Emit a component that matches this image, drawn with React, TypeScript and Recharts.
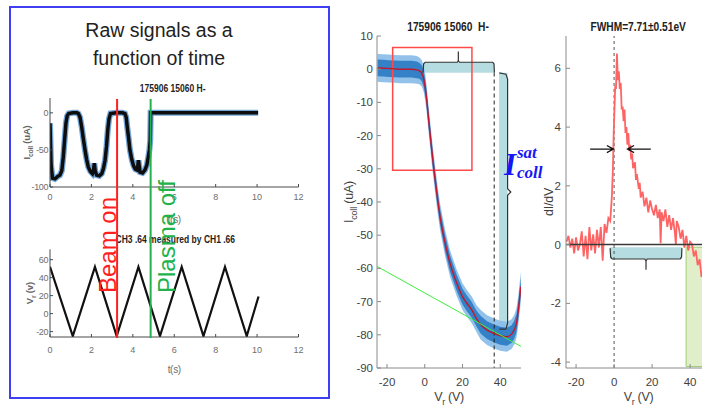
import {
  Area,
  ComposedChart,
  Line,
  ReferenceArea,
  ReferenceLine,
  XAxis,
  YAxis,
} from "recharts";

// left panel: raw collector current vs time
const rawTime = [
  0, 0.05, 0.12, 0.24, 0.36, 0.48, 0.57, 0.64, 0.71, 0.77, 0.83, 0.9, 1.1, 1.3, 1.37,
  1.45, 1.53, 1.61, 1.69, 1.77, 1.85, 1.95, 2.05, 2.1, 2.14, 2.18, 2.25, 2.38, 2.5,
  2.58, 2.66, 2.73, 2.79, 2.85, 2.92, 3.2, 3.5, 3.62, 3.68, 3.73, 3.8, 3.86, 3.95,
  4.03, 4.12, 4.2, 4.24, 4.27, 4.31, 4.35, 4.47, 4.59, 4.68, 4.75, 4.8, 4.84, 4.86,
  6, 8, 10.05,
];
const rawCurrent = [
  -14, -70, -88, -89, -86, -84, -78, -60, -35, -14, -4, -1, 0, 0, -1,
  -6, -19, -35, -50, -63, -73, -79, -82, -78, -68, -78, -84, -85, -82,
  -75, -64, -45, -23, -8, -1, 0, 0, -1, -6, -19, -35, -50, -63,
  -71, -76, -77, -72, -64, -72, -80, -81, -77, -70, -59, -50, -37, 0,
  0, 0, 0,
];
// ramp voltage CH3 measured by CH1
const rampTime = [0, 1.1, 2.17, 3.22, 4.27, 5.31, 6.36, 7.41, 8.45, 9.5, 10.07];
const rampVolt = [52, -25, 52, -25, 52, -25, 52, -25, 52, -25, 19];
const eventTime = [3.24, 4.86];
const eventText = ["Beam on", "Plasma off"];
const timeTicks = [0, 2, 4, 6, 8, 10, 12];

// middle: I-V sweep
const sweepV = [
  -25, -22, -19, -16, -13, -10, -7, -4.2, -2.8, -1.6, -0.6, 0.2, 1, 1.9, 2.8, 3.7, 4.9,
  6.4, 8.1, 10.8, 13.4, 17, 20, 22.3, 24.9, 27.5, 29.7, 33, 36.8, 40, 43.5, 46, 47.4,
  48.6, 49.6, 50.9,
];
const sweepI = [
  0.4, 0.3, 0.2, 0.1, 0, 0, 0, -0.2, -0.5, -1.2, -2.8, -5.3, -9, -14.3, -19.3, -24.3,
  -30.4, -37.4, -44.4, -52.4, -58.5, -64.5, -68.5, -70.5, -72.5, -75.2, -77, -78.6,
  -79.6, -80.3, -80.6, -79.8, -78.5, -76.5, -72.5, -65.5,
];
const sweepNoise = [
  4.2, 4.2, 4.2, 4.2, 4.2, 4.2, 4.2, 4.2, 4, 4, 4, 4, 4, 4, 4, 4, 4,
  4, 4, 4, 4, 4, 4, 4, 4, 4, 4.5, 4.5, 4.5, 4.5, 4.5, 4.5, 4.5, 4.5, 4.5, 4.5,
];
const baselineV = [-25.3, 51];
const baselineI = [-59.4, -83.5];
const braceTopV = [-0.9, -0.6, 0.2, 17.2, 17.8, 17.8, 17.8, 18.4, 36.0, 36.7, 36.9];
const braceTopI = [-1.0, 1.6, 2.1, 2.1, 2.6, 5.3, 2.6, 2.1, 2.1, 1.6, -1.0];
const braceSideV = [39.5, 43.0, 43.9, 43.9, 45.6, 43.9, 43.9, 43.0, 39.5];
const braceSideI = [-1.1, -1.5, -3.0, -36.0, -37.0, -38.0, -76.5, -78.3, -78.3];
const vTicks = [-20, 0, 20, 40];
const iTicks = [-90, -80, -70, -60, -50, -40, -30, -20, -10, 0, 10];

// right: dI/dV
const derivV = [
  -25, -24, -23, -22, -21, -20, -19, -18, -17, -16, -15, -14, -13, -12, -11, -10, -9, -8,
  -7, -6, -5, -4, -3, -2, -1.2, -0.6, -0.2, 0.2, 0.6, 1, 1.5, 2, 2.5, 3, 3.5, 4, 4.5, 5,
  5.5, 6, 6.5, 7, 7.5, 8, 8.5, 9, 9.5, 10, 11, 11.5, 12, 13, 13.5, 14, 15, 16, 17, 18,
  19, 20, 21, 22, 23, 24, 24.5, 25, 26, 27, 28, 29, 30, 31, 32, 32.5, 33, 34, 35, 36,
  37, 38, 39, 40, 41, 42, 43, 44, 45, 46, 47,
];
const derivD = [
  0.1, 0.3, -0.1, 0.2, -0.3, 0.25, -0.2, 0, 0.45, -0.4, 0.3, -0.5, 0.6, -0.2, 0.35, -0.3,
  0.5, -0.1, 0.6, -0.55, 0.7, 0.4, 0.9, 0.8, 1.6, 2.6, 3.8, 4.6, 5.4, 5.3, 6.5, 5.6, 5.9,
  5.3, 5.5, 4.6, 4.7, 4.2, 4.6, 3.8, 4.0, 3.4, 3.8, 3.2, 3.4, 2.9, 3.1, 2.6, 2.8, 2.2,
  2.4, 1.9, 2.1, 1.6, 1.8, 1.3, 1.6, 1.1, 1.5, 1.2, 1.0, 1.35, 0.9, 1.2, 0.05, 1.1, 0.8,
  1.2, 0.6, 1.0, 0.5, 0.9, 0.4, 0.0, 0.8, 0.6, 0.2, 0.5, -0.1, 0.3, -0.2, 0.1, 0.02,
  -0.4, -0.2, -0.7, -0.5, -1.1, -0.8,
];
const arrowLeftV = [-12.6, -0.3, -3.8, -0.3, -3.8];
const arrowLeftD = [3.25, 3.25, 3.37, 3.25, 3.13];
const arrowRightV = [19.3, 7.0, 10.5, 7.0, 10.5];
const arrowRightD = [3.25, 3.25, 3.37, 3.25, 3.13];
const braceLowV = [-2.1, -1.8, -1.0, 16.2, 16.8, 16.8, 16.8, 17.4, 34.8, 35.5, 35.7];
const braceLowD = [-0.12, -0.42, -0.49, -0.49, -0.56, -0.86, -0.56, -0.49, -0.49, -0.42, -0.12];
const dTicks = [-4, -2, 0, 2, 4, 6];

const pts = (xs: number[], ys: number[]) => xs.map((x, k) => ({ x, y: ys[k] }));

const RED = "#ff1f1f";
const GREEN = "#22b24c";
const CYAN = "#b5dde1";
const AX_L = "#4a4a4a";
const TXT_L = "#6e6e6e";
const AX = "#8a8a8a";
const TXT = "#3f3f3f";
const noTick = () => "";

function rotLabel(text: string, sub: string, rest: string, dx: number, size: number, color: string, weight = "normal") {
  return (props: any) => {
    const vb = props.viewBox;
    const cx = vb.x + dx;
    const cy = vb.y + vb.height / 2;
    return (
      <text x={cx} y={cy} transform={`rotate(-90 ${cx} ${cy})`} textAnchor="middle" fontSize={size} fill={color} fontWeight={weight} letterSpacing={-0.2}>
        {text}
        {sub ? <tspan fontSize={size * 0.72} dy={size * 0.3}>{sub}</tspan> : null}
        <tspan dy={sub ? -size * 0.3 : 0}>{rest}</tspan>
      </text>
    );
  };
}

function xLabel(text: string, sub: string, rest: string, dy: number, size: number, color: string) {
  return (props: any) => {
    const vb = props.viewBox;
    const cx = vb.x + vb.width / 2;
    const y = vb.y + dy;
    return (
      <text x={cx} y={y} textAnchor="middle" fontSize={size} fill={color} letterSpacing={-0.3}>
        {text}
        {sub ? <tspan fontSize={size * 0.72} dy={size * 0.3}>{sub}</tspan> : null}
        <tspan dy={sub ? -size * 0.3 : 0}>{rest}</tspan>
      </text>
    );
  };
}

function RawCurrentPlot() {
  const data = pts(rawTime, rawCurrent);
  return (
    <ComposedChart width={310} height={149} margin={{ top: 18, right: 11.5, bottom: 0, left: 0 }}>
      <XAxis dataKey="x" type="number" domain={[0, 12]} ticks={timeTicks} interval={0} allowDataOverflow height={42}
        tickSize={-3} tickMargin={10} axisLine={{ stroke: AX_L }} tickLine={{ stroke: AX_L }}
        tick={{ fontSize: 9, fill: TXT_L }} label={xLabel("t", "", "(s)", 36, 10, TXT_L)} />
      <XAxis xAxisId="top" orientation="top" dataKey="x" type="number" domain={[0, 12]} ticks={timeTicks} interval={0}
        allowDataOverflow height={0} tickSize={-3} tickFormatter={noTick} axisLine={{ stroke: AX_L }} tickLine={{ stroke: AX_L }} />
      <YAxis type="number" domain={[-100, 20]} ticks={[-100, -50, 0]} interval={0} allowDataOverflow width={50}
        tickSize={-3} tickMargin={5} axisLine={{ stroke: AX_L }} tickLine={{ stroke: AX_L }}
        tick={{ fontSize: 9, fill: TXT_L, letterSpacing: -0.4 }} label={rotLabel("I", "coll", " (uA)", 30, 9.5, "#666", "bold")} />
      <YAxis yAxisId="right" orientation="right" type="number" domain={[-100, 20]} ticks={[-100, -50, 0]} interval={0}
        allowDataOverflow width={0} tickSize={-3} tickFormatter={noTick} axisLine={{ stroke: AX_L }} tickLine={{ stroke: AX_L }} />
      <Line data={data} dataKey="y" stroke="#4f8fd0" strokeWidth={6} strokeOpacity={0.8} dot={false} isAnimationActive={false} />
      <Line data={data} dataKey="y" stroke="#0d0d0d" strokeWidth={3.5} dot={false} isAnimationActive={false} />
    </ComposedChart>
  );
}

function RampPlot() {
  const data = pts(rampTime, rampVolt);
  return (
    <ComposedChart width={310} height={148} margin={{ top: 18.3, right: 11.5, bottom: 0, left: 0 }}>
      <XAxis dataKey="x" type="number" domain={[0, 12]} ticks={timeTicks} interval={0} allowDataOverflow height={42}
        tickSize={-3} tickMargin={13} axisLine={{ stroke: AX_L }} tickLine={{ stroke: AX_L }}
        tick={{ fontSize: 9, fill: TXT_L }} label={xLabel("t", "", "(s)", 36, 10, TXT_L)} />
      <XAxis xAxisId="top" orientation="top" dataKey="x" type="number" domain={[0, 12]} ticks={timeTicks} interval={0}
        allowDataOverflow height={0} tickSize={-3} tickFormatter={noTick} axisLine={{ stroke: AX_L }} tickLine={{ stroke: AX_L }} />
      <YAxis type="number" domain={[-26, 71.5]} ticks={[-20, 0, 20, 40, 60]} interval={0} allowDataOverflow width={50}
        tickSize={-3} tickMargin={5} axisLine={{ stroke: AX_L }} tickLine={{ stroke: AX_L }}
        tick={{ fontSize: 9, fill: TXT_L, letterSpacing: -0.4 }} label={rotLabel("V", "r", " (v)", 33, 9.5, "#666", "bold")} />
      <YAxis yAxisId="right" orientation="right" type="number" domain={[-26, 71.5]} ticks={[-20, 0, 20, 40, 60]} interval={0}
        allowDataOverflow width={0} tickSize={-3} tickFormatter={noTick} axisLine={{ stroke: AX_L }} tickLine={{ stroke: AX_L }} />
      <Line data={data} dataKey="y" stroke="#111" strokeWidth={2.2} dot={false} isAnimationActive={false} />
    </ComposedChart>
  );
}

function EventMarkers() {
  return (
    <ComposedChart width={310} height={239} margin={{ top: 0, right: 11.5, bottom: 0, left: 50 }}>
      <XAxis dataKey="x" type="number" domain={[0, 12]} allowDataOverflow hide />
      <YAxis type="number" domain={[0, 1]} allowDataOverflow hide />
      <Line data={pts([eventTime[0], eventTime[0]], [0, 1])} dataKey="y" stroke={RED} strokeWidth={2} dot={false} isAnimationActive={false} />
      <Line data={pts([eventTime[1], eventTime[1]], [0, 1])} dataKey="y" stroke={GREEN} strokeWidth={2} dot={false} isAnimationActive={false} />
    </ComposedChart>
  );
}

function SweepPlot() {
  const band = sweepV.map((x, k) => ({ x, y: [sweepI[k] - sweepNoise[k], sweepI[k] + sweepNoise[k]] }));
  const core = sweepV.map((x, k) => ({ x, y: [sweepI[k] - sweepNoise[k] * 0.6, sweepI[k] + sweepNoise[k] * 0.6] }));
  const fit = pts(sweepV, sweepI);
  return (
    <ComposedChart width={200} height={410} margin={{ top: 36, right: 9, bottom: 2, left: 0 }}>
      <XAxis dataKey="x" type="number" domain={[-25.3, 51]} ticks={vTicks} interval={0} allowDataOverflow height={40}
        tickSize={-4} tickMargin={14} axisLine={{ stroke: AX }} tickLine={{ stroke: AX }}
        tick={{ fontSize: 11.5, fill: TXT }} label={xLabel("V", "r", " (V)", 33, 12.5, TXT)} />
      <XAxis xAxisId="top" orientation="top" dataKey="x" type="number" domain={[-25.3, 51]} ticks={vTicks} interval={0}
        allowDataOverflow height={0} tickSize={-4} tickFormatter={noTick} axisLine={{ stroke: AX }} tickLine={{ stroke: AX }} />
      <YAxis type="number" domain={[-90, 10]} ticks={iTicks} interval={0} allowDataOverflow width={47}
        tickSize={-4} tickMargin={8} axisLine={{ stroke: AX }} tickLine={{ stroke: AX }}
        tick={{ fontSize: 11.5, fill: TXT }} label={rotLabel("I", "coll", " (uA)", 23, 12.5, TXT)} />
      <YAxis yAxisId="right" orientation="right" type="number" domain={[-90, 10]} ticks={iTicks} interval={0}
        allowDataOverflow width={0} tickSize={-4} tickFormatter={noTick} axisLine={{ stroke: AX }} tickLine={{ stroke: AX }} />
      <ReferenceArea x1={-0.7} x2={36.8} y1={-1.05} y2={2.1} fill={CYAN} fillOpacity={1} stroke="none" />
      <ReferenceArea x1={39.4} x2={43.9} y1={-78.3} y2={-1.1} fill={CYAN} fillOpacity={1} stroke="none" />
      <ReferenceLine segment={[{ x: 36.8, y: -1 }, { x: 36.8, y: -90 }]} stroke="#222" strokeDasharray="4 3" strokeWidth={1} />
      <Area data={band} dataKey="y" type="linear" stroke="none" fill="#86bbe8" fillOpacity={0.9} isAnimationActive={false} />
      <Area data={core} dataKey="y" type="linear" stroke="none" fill="#2f7dc6" fillOpacity={0.95} isAnimationActive={false} />
      <Line data={fit} dataKey="y" type="monotone" stroke="#c0182e" strokeWidth={1.4} dot={false} isAnimationActive={false} />
      <Line data={pts(baselineV, baselineI)} dataKey="y" stroke="#3cf03c" strokeWidth={1} dot={false} isAnimationActive={false} />
      <ReferenceArea x1={-17} x2={25} y1={-30.4} y2={6.5} fill="none" stroke="#ff4a4a" strokeWidth={1.5} />
      <Line data={pts(braceTopV, braceTopI)} dataKey="y" stroke="#333" strokeWidth={1.2} dot={false} isAnimationActive={false} />
      <Line data={pts(braceSideV, braceSideI)} dataKey="y" stroke="#333" strokeWidth={1.2} dot={false} isAnimationActive={false} />
    </ComposedChart>
  );
}

function DerivativePlot() {
  return (
    <ComposedChart width={180} height={410} margin={{ top: 36, right: 9, bottom: 2, left: 0 }}>
      <XAxis dataKey="x" type="number" domain={[-25.3, 51]} ticks={vTicks} interval={0} allowDataOverflow height={40}
        tickSize={-4} tickMargin={14} axisLine={{ stroke: AX }} tickLine={{ stroke: AX }}
        tick={{ fontSize: 11.5, fill: TXT }} label={xLabel("V", "r", " (V)", 33, 12.5, TXT)} />
      <XAxis xAxisId="top" orientation="top" dataKey="x" type="number" domain={[-25.3, 51]} ticks={vTicks} interval={0}
        allowDataOverflow height={0} tickSize={-4} tickFormatter={noTick} axisLine={{ stroke: AX }} tickLine={{ stroke: AX }} />
      <YAxis type="number" domain={[-4.2, 7.1]} ticks={dTicks} interval={0} allowDataOverflow width={26}
        tickSize={-4} tickMargin={9} axisLine={{ stroke: AX }} tickLine={{ stroke: AX }}
        tick={{ fontSize: 11.5, fill: TXT }} label={rotLabel("dI/dV", "", "", 13, 12.5, TXT)} />
      <ReferenceArea x1={-2.1} x2={35.6} y1={-0.49} y2={-0.09} fill={CYAN} fillOpacity={1} stroke="none" />
      <ReferenceLine x={0} stroke="#555" strokeDasharray="3 3" strokeWidth={1} />
      <Line data={pts(derivV, derivD)} dataKey="y" stroke="#ff6464" strokeWidth={1.8} dot={false} isAnimationActive={false} />
      <ReferenceLine y={0} stroke="#3a3a3a" strokeWidth={1.5} />
      <ReferenceArea x1={37.9} x2={51} y1={-4.15} y2={-0.09} fill="#cfe6ac" fillOpacity={0.65} stroke="#9fcd73" strokeWidth={1} />
      <Line data={pts(braceLowV, braceLowD)} dataKey="y" stroke="#333" strokeWidth={1.2} dot={false} isAnimationActive={false} />
      <Line data={pts(arrowLeftV, arrowLeftD)} dataKey="y" stroke="#111" strokeWidth={1.2} dot={false} isAnimationActive={false} />
      <Line data={pts(arrowRightV, arrowRightD)} dataKey="y" stroke="#111" strokeWidth={1.2} dot={false} isAnimationActive={false} />
    </ComposedChart>
  );
}

const titleStyle = (left: number, top: number, width: number, size: number): React.CSSProperties => ({
  position: "absolute",
  left,
  top,
  width,
  textAlign: "center",
  fontSize: size,
  fontWeight: "bold",
  color: "#1e1e1e",
  whiteSpace: "pre",
  lineHeight: `${size + 2}px`,
});

export default function App() {
  return (
    <div style={{ position: "fixed", left: 0, top: 0, width: 702, height: 410, overflow: "hidden", background: "#fff", fontFamily: '"Liberation Sans", Arial, sans-serif' }}>
      <div style={{ position: "absolute", left: 9, top: 6, width: 317, height: 389, border: "2px solid #3f3ff2" }} />
      <div style={{ position: "absolute", left: 9, top: 16, width: 300, textAlign: "center", fontSize: 19.5, lineHeight: "28px", color: "#222" }}>
        Raw signals as a<br />function of time
      </div>
      <div style={titleStyle(73, 83, 200, 10)}>
        <span style={{ display: "inline-block", transform: "scaleX(0.85)" }}>175906 15060 H-</span>
      </div>
      <div style={titleStyle(75, 234, 200, 10)}>
        <span style={{ display: "inline-block", transform: "scaleX(0.85)" }}>CH3 .64 measured by CH1 .66</span>
      </div>
      <div style={{ position: "absolute", left: 0, top: 80 }}>
        <RawCurrentPlot />
      </div>
      <div style={{ position: "absolute", left: 0, top: 231 }}>
        <RampPlot />
      </div>
      <div style={{ position: "absolute", left: 0, top: 99 }}>
        <EventMarkers />
      </div>
      <div style={{ position: "absolute", left: 96, top: 293, transform: "rotate(-90deg)", transformOrigin: "0 0", fontSize: 24, lineHeight: "24px", color: RED, whiteSpace: "nowrap" }}>
        {eventText[0]}
      </div>
      <div style={{ position: "absolute", left: 155, top: 293, transform: "rotate(-90deg)", transformOrigin: "0 0", fontSize: 24, lineHeight: "24px", color: GREEN, whiteSpace: "nowrap" }}>
        {eventText[1]}
      </div>

      <div style={{ position: "absolute", left: 330, top: 0 }}>
        <SweepPlot />
      </div>
      <div style={titleStyle(348, 20, 200, 12)}>
        <span style={{ display: "inline-block", transform: "scaleX(0.85)" }}>{"175906 15060  H-"}</span>
      </div>
      <svg style={{ position: "absolute", left: 495, top: 130 }} width={70} height={60}>
        <g fill="#1717f5" fontFamily='"Liberation Serif", serif' fontStyle="italic" fontWeight="bold">
          <text x={9} y={45} fontSize={31}>I</text>
          <text x={22} y={28} fontSize={17}>sat</text>
          <text x={22} y={47.5} fontSize={17}>coll</text>
        </g>
      </svg>

      <div style={{ position: "absolute", left: 540, top: 0 }}>
        <DerivativePlot />
      </div>
      <div style={titleStyle(538, 20, 200, 12)}>
        <span style={{ display: "inline-block", transform: "scaleX(0.85)" }}>FWHM=7.71±0.51eV</span>
      </div>
    </div>
  );
}
